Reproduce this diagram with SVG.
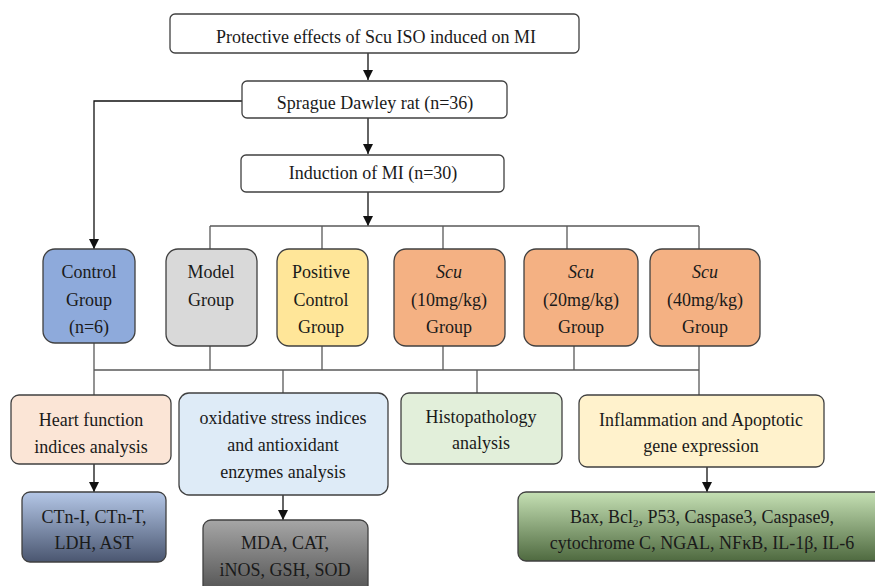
<svg xmlns="http://www.w3.org/2000/svg" width="875" height="586" viewBox="0 0 875 586">
<defs>
<style>
text{font-family:"Liberation Serif","Times New Roman",Times,serif;font-size:18px;fill:#1a1a1a;text-anchor:middle}
.box{stroke:#404040;stroke-width:1.3}
.ln{fill:none;stroke:#111;stroke-width:1.3}
.bus{fill:none;stroke:#595959;stroke-width:1.3}
</style>
<marker id="ah" viewBox="0 0 10 10" refX="10" refY="5" markerWidth="10" markerHeight="10" markerUnits="userSpaceOnUse" orient="auto">
<path d="M0,0 L10,5 L0,10 Z" fill="#111"/>
</marker>
<linearGradient id="gBlue" x1="0" y1="0" x2="0" y2="1">
<stop offset="0" stop-color="#b4c7e7"/><stop offset="1" stop-color="#4a5670"/>
</linearGradient>
<linearGradient id="gGray" x1="0" y1="0" x2="0" y2="1">
<stop offset="0" stop-color="#a6a6a6"/><stop offset="1" stop-color="#4a4a4a"/>
</linearGradient>
<linearGradient id="gGreen" x1="0" y1="0" x2="0" y2="1">
<stop offset="0" stop-color="#c5e0b4"/><stop offset="1" stop-color="#4f6a40"/>
</linearGradient>
</defs>

<g id="connectors">
<path class="ln" d="M368,53 V80" marker-end="url(#ah)"/>
<path class="ln" d="M368,118 V154" marker-end="url(#ah)"/>
<path class="ln" d="M368,192 V226" marker-end="url(#ah)"/>
<path class="ln" d="M242,101 H94 V249" marker-end="url(#ah)"/>
<path class="bus" d="M210,226 H699 M210,226 V249 M322,226 V249 M443,226 V249 M567,226 V249 M699,226 V249"/>
<path class="bus" d="M94,343 V370 M210,346 V370 M322,346 V370 M443,346 V370 M574,346 V370 M699,346 V370 M94,370 H699"/>
<path class="bus" d="M94,370 V395 M283,370 V393 M477,370 V393 M699,370 V395"/>
<path class="ln" d="M94,464 V492" marker-end="url(#ah)"/>
<path class="ln" d="M283,495 V520" marker-end="url(#ah)"/>
<path class="ln" d="M707,467 V492" marker-end="url(#ah)"/>
</g>

<g id="n-top"><rect class="box" x="170" y="14" width="409" height="39" rx="5" fill="#fff"/><text x="376" y="43">Protective effects of Scu ISO induced on MI</text></g>
<g id="n-sd"><rect class="box" x="242" y="81" width="265" height="37" rx="5" fill="#fff"/><text x="375" y="109">Sprague Dawley rat (n=36)</text></g>
<g id="n-ind"><rect class="box" x="241" y="155" width="263" height="37" rx="5" fill="#fff"/><text x="373" y="179">Induction of MI (n=30)</text></g>

<g id="n-control"><rect class="box" x="43" y="249" width="92" height="94" rx="12" fill="#8eaadb"/><text x="89" y="278">Control</text><text x="89" y="306">Group</text><text x="89" y="333">(n=6)</text></g>
<g id="n-model"><rect class="box" x="166" y="249" width="91" height="97" rx="12" fill="#d9d9d9"/><text x="211" y="278">Model</text><text x="211" y="306">Group</text></g>
<g id="n-positive"><rect class="box" x="277" y="249" width="91" height="97" rx="12" fill="#ffe699"/><text x="321" y="278">Positive</text><text x="321" y="306">Control</text><text x="321" y="333">Group</text></g>
<g id="n-scu10"><rect class="box" x="394" y="249" width="111" height="97" rx="12" fill="#f4b183"/><text x="449" y="278" font-style="italic">Scu</text><text x="449" y="306">(10mg/kg)</text><text x="449" y="333">Group</text></g>
<g id="n-scu20"><rect class="box" x="524" y="249" width="114" height="97" rx="12" fill="#f4b183"/><text x="581" y="278" font-style="italic">Scu</text><text x="581" y="306">(20mg/kg)</text><text x="581" y="333">Group</text></g>
<g id="n-scu40"><rect class="box" x="650" y="249" width="110" height="97" rx="12" fill="#f4b183"/><text x="705" y="278" font-style="italic">Scu</text><text x="705" y="306">(40mg/kg)</text><text x="705" y="333">Group</text></g>

<g id="n-heart"><rect class="box" x="11" y="395" width="160" height="69" rx="8" fill="#fbe5d6"/><text x="91" y="426">Heart function</text><text x="91" y="453">indices analysis</text></g>
<g id="n-ox"><rect class="box" x="179" y="393" width="209" height="102" rx="10" fill="#deebf7"/><text x="283" y="424">oxidative stress indices</text><text x="283" y="451">and antioxidant</text><text x="283" y="478">enzymes analysis</text></g>
<g id="n-histo"><rect class="box" x="401" y="393" width="161" height="71" rx="8" fill="#e2efda"/><text x="481" y="423">Histopathology</text><text x="481" y="449">analysis</text></g>
<g id="n-infl"><rect class="box" x="579" y="395" width="245" height="72" rx="8" fill="#fff2cc"/><text x="701" y="426">Inflammation and Apoptotic</text><text x="701" y="452">gene expression</text></g>

<g id="n-ctn"><rect class="box" x="22" y="492" width="144" height="70" rx="8" fill="url(#gBlue)"/><text x="94" y="523">CTn-I, CTn-T,</text><text x="94" y="549">LDH, AST</text></g>
<g id="n-mda"><rect class="box" x="203" y="520" width="165" height="80" rx="8" fill="url(#gGray)"/><text x="285" y="549">MDA, CAT,</text><text x="285" y="576">iNOS, GSH, SOD</text></g>
<g id="n-bax"><rect class="box" x="518" y="492" width="370" height="69" rx="8" fill="url(#gGreen)"/><text x="702" y="523">Bax, Bcl<tspan font-size="11" dy="4">2</tspan><tspan dy="-4">, P53, Caspase3, Caspase9,</tspan></text><text x="702" y="549">cytochrome C, NGAL, NFκB, IL-1β, IL-6</text></g>
</svg>
